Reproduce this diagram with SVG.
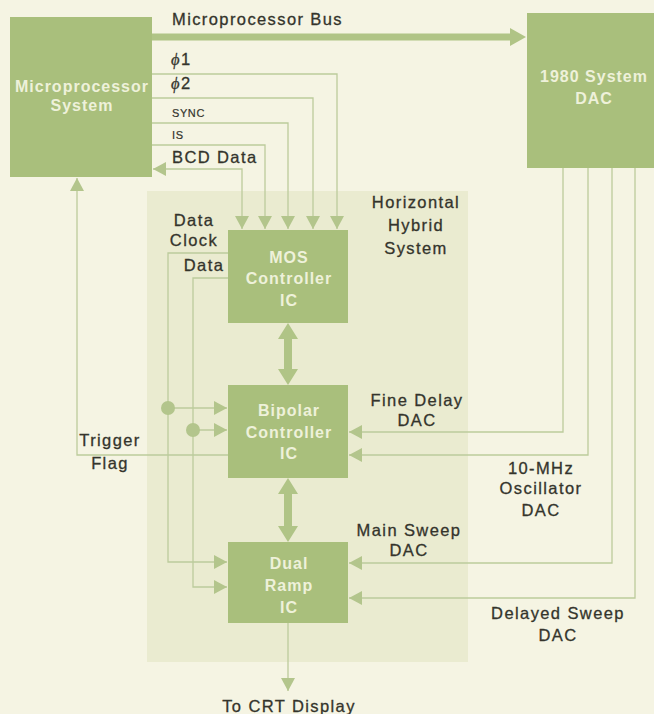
<svg xmlns="http://www.w3.org/2000/svg" width="654" height="714" viewBox="0 0 654 714">
<defs>
<style>
.box{fill:#a9bf7c}
.bt{font-family:"Liberation Sans",Arial,sans-serif;font-size:16px;font-weight:bold;letter-spacing:1px;fill:#eef1da;text-anchor:middle}
.lb{font-family:"Liberation Sans",Arial,sans-serif;font-size:16.5px;letter-spacing:1.4px;fill:#34342c;stroke:#34342c;stroke-width:0.3;text-anchor:middle}
.ll{font-family:"Liberation Sans",Arial,sans-serif;font-size:16.5px;letter-spacing:1.4px;fill:#34342c;stroke:#34342c;stroke-width:0.3}
.sm{font-family:"Liberation Sans",Arial,sans-serif;font-size:11px;letter-spacing:0.6px;fill:#34342c;stroke:#34342c;stroke-width:0.2}
.ln{fill:none;stroke:#bccb9c;stroke-width:1.3}
.thick{fill:none;stroke:#b0c486;stroke-width:7}
.hd{fill:#b0c486}
.dot{fill:#b3c58c}
</style>
<marker id="ah" markerUnits="userSpaceOnUse" markerWidth="14" markerHeight="14" refX="13" refY="7" orient="auto-start-reverse" viewBox="0 0 14 14">
<path d="M0,0 L13,7 L0,14 z" fill="#b3c58c"/>
</marker>
</defs>
<rect width="654" height="714" fill="#f5f4e3"/>
<rect id="hybrid-panel" x="147" y="191" width="321" height="471" fill="#eaebd0"/>

<g id="connectors">
<path class="thick" d="M152,37 H512"/>
<polygon class="hd" points="510,28 526,37 510,46"/>
<path class="ln" d="M152,74 H337 V229" marker-end="url(#ah)"/>
<path class="ln" d="M152,98 H313 V229" marker-end="url(#ah)"/>
<path class="ln" d="M152,123 H288 V229" marker-end="url(#ah)"/>
<path class="ln" d="M152,145 H265 V229" marker-end="url(#ah)"/>
<path class="ln" d="M153,169 H242 V229" marker-start="url(#ah)" marker-end="url(#ah)"/>
<path class="ln" d="M228,455 H77 V178" marker-end="url(#ah)"/>
<path class="ln" d="M228,253 H168 V562 H227" marker-end="url(#ah)"/>
<path class="ln" d="M168,408 H227" marker-end="url(#ah)"/>
<circle class="dot" cx="168" cy="408" r="7"/>
<path class="ln" d="M228,278 H193 V587 H227" marker-end="url(#ah)"/>
<path class="ln" d="M193,430 H227" marker-end="url(#ah)"/>
<circle class="dot" cx="193" cy="430" r="7"/>
<path class="ln" d="M563,168 V432 H349" marker-end="url(#ah)"/>
<path class="ln" d="M588,168 V455 H349" marker-end="url(#ah)"/>
<path class="ln" d="M612,168 V563 H349" marker-end="url(#ah)"/>
<path class="ln" d="M635,168 V598 H349" marker-end="url(#ah)"/>
<path class="ln" d="M288,623 V691" marker-end="url(#ah)"/>
<rect class="hd" x="284" y="338" width="8" height="32"/>
<polygon class="hd" points="278,339 288,323 298,339"/>
<polygon class="hd" points="278,369 288,385 298,369"/>
<rect class="hd" x="284" y="493" width="8" height="34"/>
<polygon class="hd" points="278,494 288,478 298,494"/>
<polygon class="hd" points="278,526 288,542 298,526"/>
</g>

<g id="microprocessor-system">
<rect class="box" x="10" y="17" width="142" height="160"/>
<text class="bt" x="82" y="92">Microprocessor</text>
<text class="bt" x="82" y="111">System</text>
</g>

<g id="system-dac">
<rect class="box" x="527" y="13" width="127" height="155"/>
<text class="bt" x="594" y="82">1980 System</text>
<text class="bt" x="594" y="104">DAC</text>
</g>

<g id="mos-controller">
<rect class="box" x="228" y="230" width="120" height="93"/>
<text class="bt" x="289" y="263">MOS</text>
<text class="bt" x="289" y="284">Controller</text>
<text class="bt" x="289" y="306">IC</text>
</g>

<g id="bipolar-controller">
<rect class="box" x="228" y="385" width="120" height="93"/>
<text class="bt" x="289" y="416">Bipolar</text>
<text class="bt" x="289" y="438">Controller</text>
<text class="bt" x="289" y="459">IC</text>
</g>

<g id="dual-ramp">
<rect class="box" x="228" y="542" width="120" height="81"/>
<text class="bt" x="289" y="569">Dual</text>
<text class="bt" x="289" y="591">Ramp</text>
<text class="bt" x="289" y="613">IC</text>
</g>

<g id="labels">
<text class="ll" x="172" y="25">Microprocessor Bus</text>
<text class="ll" x="171" y="65"><tspan font-family="'Liberation Serif',serif" font-style="italic">ϕ</tspan>1</text>
<text class="ll" x="171" y="89"><tspan font-family="'Liberation Serif',serif" font-style="italic">ϕ</tspan>2</text>
<text class="sm" x="172" y="117">SYNC</text>
<text class="sm" x="172" y="139">IS</text>
<text class="ll" x="172" y="163">BCD Data</text>
<text class="lb" x="416" y="208">Horizontal</text>
<text class="lb" x="416" y="231">Hybrid</text>
<text class="lb" x="416" y="254">System</text>
<text class="lb" x="194" y="226">Data</text>
<text class="lb" x="194" y="246">Clock</text>
<text class="lb" x="204" y="271">Data</text>
<text class="lb" x="110" y="446">Trigger</text>
<text class="lb" x="110" y="469">Flag</text>
<text class="lb" x="417" y="406">Fine Delay</text>
<text class="lb" x="417" y="426">DAC</text>
<text class="lb" x="541" y="474">10-MHz</text>
<text class="lb" x="541" y="494">Oscillator</text>
<text class="lb" x="541" y="516">DAC</text>
<text class="lb" x="409" y="536">Main Sweep</text>
<text class="lb" x="409" y="556">DAC</text>
<text class="lb" x="558" y="619">Delayed Sweep</text>
<text class="lb" x="558" y="641">DAC</text>
<text class="lb" x="289" y="712">To CRT Display</text>
</g>
</svg>
